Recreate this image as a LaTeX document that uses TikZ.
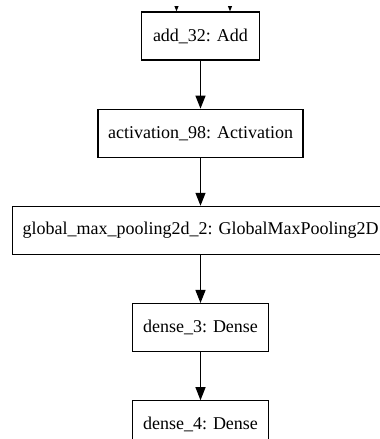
\documentclass[tikz,border=0pt]{standalone}
\usepackage{fontspec}
\setmainfont{Liberation Serif}
\usetikzlibrary{arrows.meta, positioning}

\begin{document}
\begin{tikzpicture}[x=1pt, y=1pt, >={Triangle[length=13pt,width=10pt]},
  every node/.style={font=\fontsize{18}{20}\selectfont},
  layer/.style={draw, line width=1.2pt, minimum height=48pt, inner sep=0pt},
  flow/.style={->, line width=1.2pt},
  node distance=48pt]
  % page of the reference (the top rows are blank)
  \useasboundingbox (0,0) rectangle (380,439);
  \clip (0,0) rectangle (380,432);

  % layers, top to bottom
  \node[layer, minimum width=118pt] (add) at (200.5,403) {add\_32: Add};
  \node[layer, minimum width=205pt, below=of add] (act) {activation\_98: Activation};
  \node[layer, minimum width=376pt, below=of act] (pool) {global\_max\_pooling2d\_2: GlobalMaxPooling2D};
  \node[layer, minimum width=136pt, below=of pool] (dense3) {dense\_3: Dense};
  \node[layer, minimum width=136pt, below=of dense3] (dense4) {dense\_4: Dense};

  % inputs of add_32, coming from outside the page
  \coordinate (inL) at (176.5,470);
  \coordinate (inR) at (230,470);
  \draw[flow] (inL) -- (inL |- add.north);
  \draw[flow] (inR) -- (inR |- add.north);

  % chain
  \draw[flow] (add) -- (act);
  \draw[flow] (act) -- (pool);
  \draw[flow] (pool) -- (dense3);
  \draw[flow] (dense3) -- (dense4);
\end{tikzpicture}
\end{document}
